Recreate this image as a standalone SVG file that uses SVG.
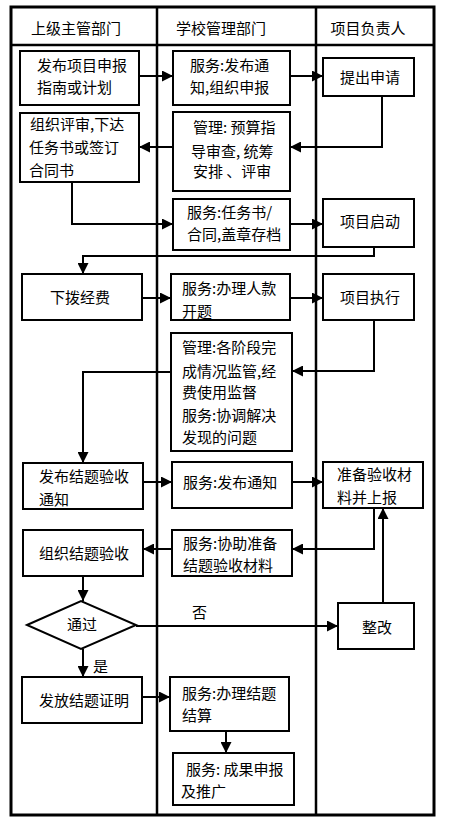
<svg xmlns="http://www.w3.org/2000/svg" width="451" height="833" viewBox="0 0 451 833">
<defs>
<marker id="ah" markerUnits="userSpaceOnUse" markerWidth="11" markerHeight="11" refX="11" refY="5.5" orient="auto">
<path d="M0,0 L11,5.5 L0,11 z" fill="#000"/>
</marker>
<style>
.box{fill:#fff;stroke:#000;stroke-width:2}
.t{font-family:"Noto Sans CJK SC","Liberation Sans",sans-serif;font-size:15px;fill:#000}
.c{text-anchor:middle}
.con{fill:none;stroke:#000;stroke-width:2;marker-end:url(#ah)}
.frame{fill:none;stroke:#000;stroke-width:3}
.div{stroke:#000;stroke-width:2.5}
</style>
</defs>
<rect width="451" height="833" fill="#fff"/>
<g id="frame">
<rect class="frame" x="11" y="7" width="423" height="808"/>
<line class="div" x1="11" y1="45" x2="434" y2="45"/>
<line class="div" x1="157" y1="7" x2="157" y2="815"/>
<line class="div" x1="316" y1="7" x2="316" y2="815"/>
<text class="t c" x="76" y="34">上级主管部门</text>
<text class="t c" x="221" y="34">学校管理部门</text>
<text class="t c" x="368" y="34">项目负责人</text>
</g>
<g id="connectors">
<line class="con" x1="139" y1="76" x2="173" y2="76"/>
<line class="con" x1="290" y1="76" x2="323" y2="76"/>
<polyline class="con" points="382,96 382,147 290,147"/>
<line class="con" x1="173" y1="147" x2="139" y2="147"/>
<polyline class="con" points="72,182 72,224 173,224"/>
<line class="con" x1="290" y1="224" x2="323" y2="224"/>
<polyline class="con" points="374,247 374,256 83,256 83,274"/>
<line class="con" x1="142" y1="298" x2="171" y2="298"/>
<line class="con" x1="290" y1="298" x2="323" y2="298"/>
<polyline class="con" points="374,320 374,371 292,371"/>
<polyline class="con" points="171,372 83,372 83,463"/>
<line class="con" x1="143" y1="482" x2="172" y2="482"/>
<line class="con" x1="292" y1="482" x2="323" y2="482"/>
<polyline class="con" points="374,508 374,549 292,549"/>
<line class="con" x1="172" y1="549" x2="143" y2="549"/>
<line class="con" x1="383" y1="603" x2="383" y2="508"/>
<line class="con" x1="83" y1="576" x2="83" y2="601"/>
<line class="con" x1="136" y1="626" x2="338" y2="626"/>
<line class="con" x1="83" y1="649" x2="83" y2="677"/>
<line class="con" x1="142" y1="697" x2="170" y2="697"/>
<line class="con" x1="226" y1="731" x2="226" y2="753"/>
<text class="t" x="192" y="618">否</text>
<text class="t" x="93" y="672">是</text>
</g>
<g id="n1"><rect class="box" x="20" y="51" width="119" height="54"/><text class="t" x="37" y="71">发布项目申报</text><text class="t" x="37" y="93">指南或计划</text></g>
<g id="n2"><rect class="box" x="173" y="51" width="117" height="54"/><text class="t" x="190" y="71">服务:发布通</text><text class="t" x="190" y="93">知,组织申报</text></g>
<g id="n3"><rect class="box" x="323" y="58" width="91" height="38"/><text class="t c" x="370" y="83">提出申请</text></g>
<g id="n4"><rect class="box" x="20" y="113" width="119" height="69"/><text class="t" x="30" y="130">组织评审,下达</text><text class="t" x="29" y="153">任务书或签订</text><text class="t" x="29" y="176">合同书</text></g>
<g id="n5"><rect class="box" x="173" y="112" width="117" height="79"/><text class="t" x="193" y="133">管理: 预算指</text><text class="t" x="191" y="157">导审查, 统筹</text><text class="t" x="193" y="177">安排 、评审</text></g>
<g id="n6"><rect class="box" x="173" y="199" width="117" height="51"/><text class="t" x="187" y="218">服务:任务书/</text><text class="t" x="187" y="240">合同,盖章存档</text></g>
<g id="n7"><rect class="box" x="323" y="199" width="91" height="48"/><text class="t c" x="370" y="227">项目启动</text></g>
<g id="n8"><rect class="box" x="22" y="274" width="120" height="46"/><text class="t c" x="80" y="303">下拨经费</text></g>
<g id="n9"><rect class="box" x="171" y="274" width="119" height="46"/><text class="t" x="182" y="294">服务:办理人款</text><text class="t" x="182" y="317">开题</text></g>
<g id="n10"><rect class="box" x="323" y="274" width="91" height="46"/><text class="t c" x="370" y="303">项目执行</text></g>
<g id="n11"><rect class="box" x="171" y="333" width="121" height="118"/><text class="t" x="182" y="353">管理:各阶段完</text><text class="t" x="182" y="377">成情况监管,经</text><text class="t" x="182" y="398">费使用监督</text><text class="t" x="182" y="421">服务:协调解决</text><text class="t" x="182" y="443">发现的问题</text></g>
<g id="n12"><rect class="box" x="23" y="463" width="120" height="46"/><text class="t" x="39" y="482">发布结题验收</text><text class="t" x="39" y="505">通知</text></g>
<g id="n13"><rect class="box" x="172" y="462" width="120" height="46"/><text class="t" x="183" y="488">服务:发布通知</text></g>
<g id="n14"><rect class="box" x="323" y="462" width="100" height="46"/><text class="t" x="337" y="480">准备验收材</text><text class="t" x="337" y="503">料并上报</text></g>
<g id="n15"><rect class="box" x="172" y="530" width="120" height="46"/><text class="t" x="183" y="549">服务:协助准备</text><text class="t" x="183" y="571">结题验收材料</text></g>
<g id="n16"><rect class="box" x="23" y="530" width="120" height="46"/><text class="t c" x="84" y="559">组织结题验收</text></g>
<g id="n17"><polygon class="box" points="27,625 81,601 136,625 81,649"/><text class="t c" x="82" y="630">通过</text></g>
<g id="n18"><rect class="box" x="338" y="603" width="76" height="46"/><text class="t c" x="377" y="633">整改</text></g>
<g id="n19"><rect class="box" x="22" y="677" width="120" height="46"/><text class="t c" x="84" y="706">发放结题证明</text></g>
<g id="n20"><rect class="box" x="170" y="677" width="119" height="54"/><text class="t" x="182" y="699">服务:办理结题</text><text class="t" x="182" y="721">结算</text></g>
<g id="n21"><rect class="box" x="173" y="753" width="121" height="52"/><text class="t" x="186" y="775">服务: 成果申报</text><text class="t" x="181" y="797">及推广</text></g>
</svg>
